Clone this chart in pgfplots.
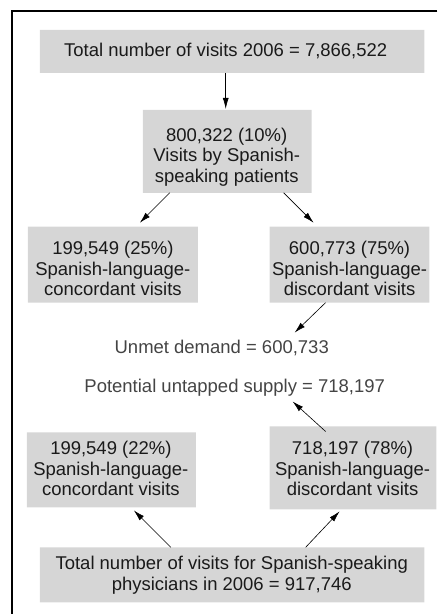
\documentclass[border=0pt]{standalone}
\usepackage{pgfplots}
\pgfplotsset{compat=1.18}
\usepackage{fontspec}
\setmainfont{Liberation Sans}
\usetikzlibrary{arrows.meta}
\definecolor{boxgray}{HTML}{D6D6D6}
\definecolor{txt}{HTML}{1A1A1A}
\definecolor{txtlight}{HTML}{444444}
\begin{document}
\begin{tikzpicture}
\begin{axis}[
  scale only axis, width=438pt, height=615pt,
  xmin=0, xmax=438, ymin=0, ymax=615, y dir=reverse,
  hide axis, clip=false,
]
% invisible frame for bounding box
\addplot[draw=none] coordinates {(0,0) (438,615)};
% boxes
\addplot[fill=boxgray, draw=none] coordinates {(40,30) (425,30) (425,73) (40,73) (40,30)};
\addplot[fill=boxgray, draw=none] coordinates {(143,110) (312,110) (312,193) (143,193) (143,110)};
\addplot[fill=boxgray, draw=none] coordinates {(28,227) (198,227) (198,303) (28,303) (28,227)};
\addplot[fill=boxgray, draw=none] coordinates {(270,227) (430,227) (430,303) (270,303) (270,227)};
\addplot[fill=boxgray, draw=none] coordinates {(27,433) (196,433) (196,508) (27,508) (27,433)};
\addplot[fill=boxgray, draw=none] coordinates {(270,427) (437,427) (437,510) (270,510) (270,427)};
\addplot[fill=boxgray, draw=none] coordinates {(40,548) (425,548) (425,603) (40,603) (40,548)};
% frame lines
\addplot[black, line width=1.5pt] coordinates {(438,11) (12,11) (12,615)};
% arrows
\tikzset{arr/.style={black, line width=0.6pt, -{Latex[length=11pt,width=6pt]}}}
\addplot[arr] coordinates {(226,73) (226,109)};
\addplot[arr] coordinates {(170,193) (140,223)};
\addplot[arr] coordinates {(284,193) (314,223)};
\addplot[arr] coordinates {(326,303) (295,333)};
\addplot[arr] coordinates {(326,432) (293,402)};
\addplot[arr] coordinates {(171,548) (134,511)};
\addplot[arr] coordinates {(306,548) (340,512)};
% texts
\tikzset{lbl/.style={text=txt, align=center, inner sep=0pt, font=\fontsize{18.5}{20.5}\selectfont}}
\node[lbl] at (axis cs:226,51) {Total number of visits 2006 = 7,866,522};
\node[lbl] at (axis cs:227,157) {800,322 (10\%)\\Visits by Spanish-\\speaking patients};
\node[lbl] at (axis cs:113,269) {199,549 (25\%)\\Spanish-language-\\concordant visits};
\node[lbl] at (axis cs:350,269) {600,773 (75\%)\\Spanish-language-\\discordant visits};
\node[lbl, text=txtlight] at (axis cs:222,348) {Unmet demand = 600,733};
\node[lbl, text=txtlight] at (axis cs:235,388) {Potential untapped supply = 718,197};
\node[lbl] at (axis cs:111,469) {199,549 (22\%)\\Spanish-language-\\concordant visits};
\node[lbl] at (axis cs:353,469) {718,197 (78\%)\\Spanish-language-\\discordant visits};
\node[lbl] at (axis cs:232,576) {Total number of visits for Spanish-speaking\\physicians in 2006 = 917,746};
\end{axis}
\end{tikzpicture}
\end{document}
